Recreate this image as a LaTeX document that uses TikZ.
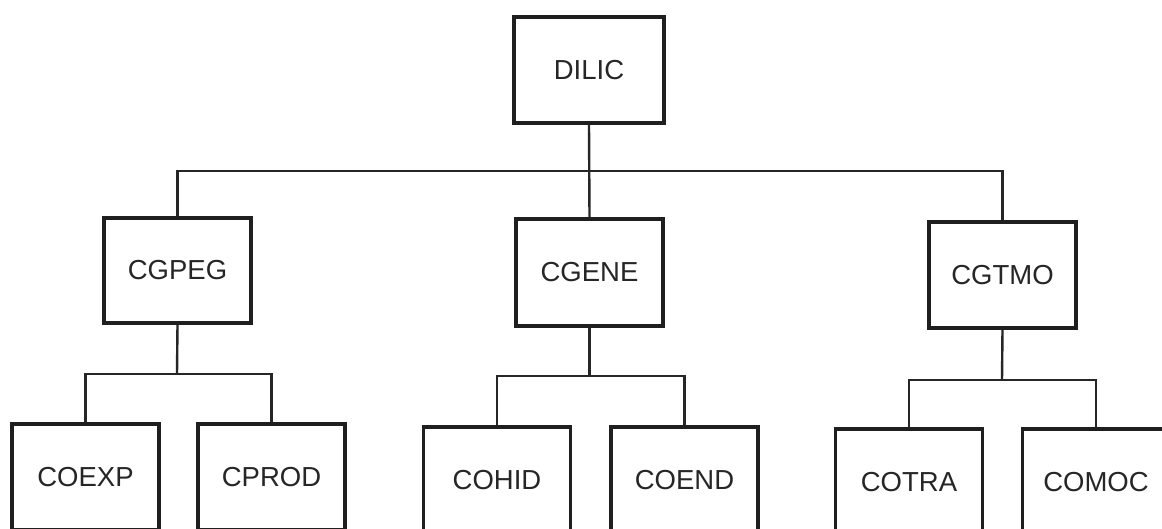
\documentclass[tikz,border=0pt]{standalone}
\usepackage{fontspec}
\setmainfont{Liberation Sans}
\begin{document}
\begin{tikzpicture}[x=1pt,y=-1pt,
  box/.style={draw=black!88, line width=3.4pt, rectangle, inner sep=0pt,
    minimum width=147pt, minimum height=106pt,
    font=\fontsize{27.5}{30}\selectfont, text=black!85},
  conn/.style={draw=black!85, line width=2.4pt}]
\useasboundingbox (0,0) rectangle (1162,529);
\clip (0,0) rectangle (1162,529);
\fill[white] (0,0) rectangle (1162,529);
% nodes
\node[box, minimum width=150pt] (dilic) at (589,70) {DILIC};
\node[box, minimum height=105pt] (cgpeg) at (177.5,270.5) {CGPEG};
\node[box, minimum height=107pt] (cgene) at (589.5,272.5) {CGENE};
\node[box] (cgtmo) at (1002.5,275) {CGTMO};
\node[box] (coexp) at (85.5,477) {COEXP};
\node[box] (cprod) at (271.5,477) {CPROD};
\node[box] (cohid) at (497,480) {COHID};
\node[box] (coend) at (684.5,480) {COEND};
\node[box] (cotra) at (909,482) {COTRA};
\node[box] (comoc) at (1096,482) {COMOC};
% bus coordinates
\coordinate (b0) at (589,171);
\coordinate (b1) at (177,374);
\coordinate (b2) at (589.5,376);
\coordinate (b3) at (1002,380);
% connectors
\draw[conn] (dilic.south) -- (cgene.north);
\draw[conn] (cgpeg.north) |- (b0) -| (cgtmo.north);
\draw[conn] (cgpeg.south) -- (b1);
\draw[conn] (coexp.north) |- (b1) -| (cprod.north);
\draw[conn] (cgene.south) -- (b2);
\draw[conn] (cohid.north) |- (b2) -| (coend.north);
\draw[conn] (cgtmo.south) -- (b3);
\draw[conn] (cotra.north) |- (b3) -| (comoc.north);
\end{tikzpicture}
\end{document}
